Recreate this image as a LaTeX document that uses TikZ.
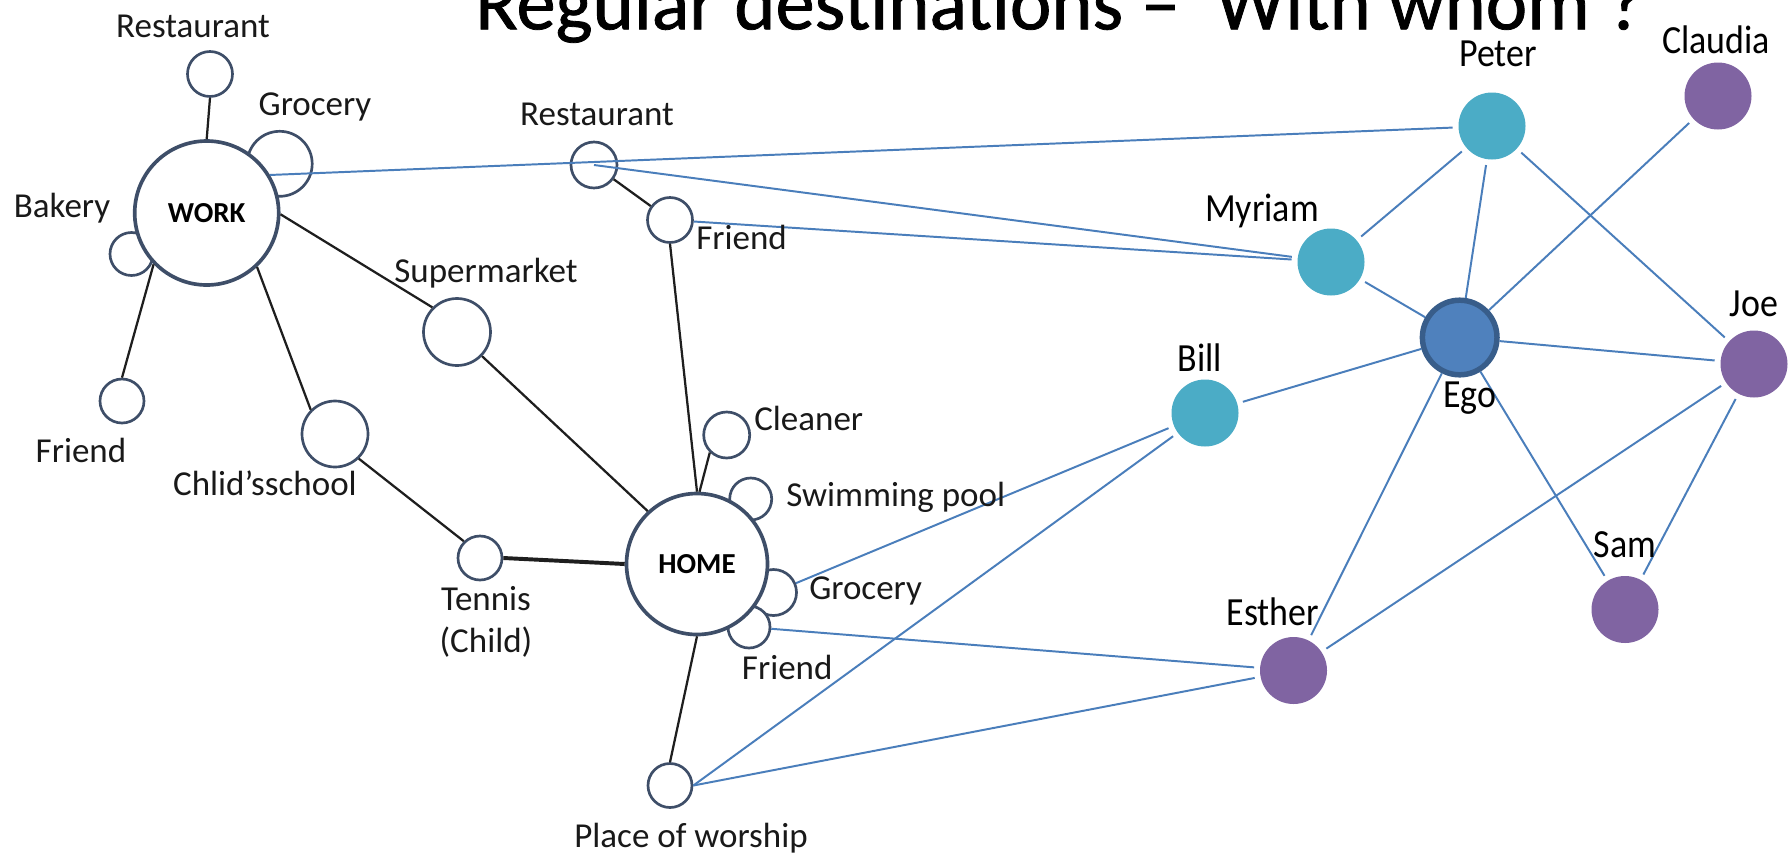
\documentclass[tikz,border=0pt]{standalone}
\usepackage{fontspec}
\setmainfont{Carlito}
\newfontfamily\pfont[FakeStretch=0.9]{Carlito}
\newfontfamily\titlefont[FakeBold=1]{Carlito}
\newcommand\upx{0.025cm}
\definecolor{placeclr}{RGB}{62,78,104}
\definecolor{tieclr}{RGB}{30,30,30}
\definecolor{labclr}{RGB}{25,25,25}
\definecolor{linkblue}{RGB}{74,126,187}
\definecolor{tealnode}{RGB}{75,172,198}
\definecolor{purplenode}{RGB}{128,100,162}
\definecolor{egofill}{RGB}{79,129,189}
\definecolor{egoborder}{RGB}{56,93,138}
\begin{document}
\begin{tikzpicture}[x=0.025cm,y=-0.025cm,
  place/.style={circle,draw=placeclr,line width=1.9pt,fill=white,inner sep=0pt},
  bigplace/.style={place,line width=2.6pt,font=\fontsize{20.6pt}{24pt}\selectfont\bfseries},
  person/.style={circle,inner sep=0pt,minimum size=67*\upx,outer sep=6*\upx},
  tie/.style={draw=tieclr,line width=1.6pt},
  link/.style={draw=linkblue,line width=1.4pt},
  lab/.style={font=\fontsize{24.9pt}{28pt}\selectfont,text=labclr,inner sep=0pt,anchor=base},
  plab/.style={font=\pfont\fontsize{28.4pt}{32pt}\selectfont,text=black,inner sep=0pt,anchor=base}]
\useasboundingbox (0,0) rectangle (1789,857);
\clip (0,0) rectangle (1789,857);
\fill[white] (0,0) rectangle (1789,857);

% title
\node[anchor=base west,inner sep=0pt,font=\titlefont\fontsize{55.8pt}{60pt}\selectfont] (title) at (475,29.3) {Regular destinations –\ \ With whom ?};

% small places
\node[place,minimum size=45*\upx] (rest1) at (210,74) {};
\node[place,minimum size=65*\upx] (groc1) at (279.7,163.8) {};
\node[place,minimum size=43*\upx] (bakery) at (131.5,254) {};
\node[place,minimum size=44*\upx] (friend1) at (122,401) {};
\node[place,minimum size=67*\upx] (superm) at (457,332) {};
\node[place,minimum size=66*\upx] (school) at (335,434) {};
\node[place,minimum size=46*\upx] (rest2) at (594,165) {};
\node[place,minimum size=45*\upx] (friend2) at (670,220) {};
\node[place,minimum size=46*\upx] (cleaner) at (726.7,435) {};
\node[place,minimum size=42*\upx] (swim) at (750.7,499) {};
\node[place,minimum size=46*\upx] (groc2) at (773.5,592.5) {};
\node[place,minimum size=42*\upx] (friend3) at (749,627) {};
\node[place,minimum size=44*\upx] (tennis) at (480,558) {};
\node[place,minimum size=44*\upx] (worship) at (670,785.5) {};
% big places
\node[bigplace,minimum size=144*\upx] (work) at (206.7,213) {WORK};
\node[bigplace,minimum size=141*\upx] (home) at (697,564) {HOME};

% persons
\node[person,fill=tealnode] (peter) at (1492,126) {};
\node[person,fill=purplenode] (claudia) at (1718,96) {};
\node[person,fill=tealnode] (myriam) at (1331,262) {};
\node[person,fill=purplenode] (joe) at (1754,364) {};
\node[person,fill=tealnode] (bill) at (1205,413) {};
\node[person,fill=purplenode] (sam) at (1625,609.5) {};
\node[person,fill=purplenode] (esther) at (1293.5,670.5) {};
\node[circle,inner sep=0pt,minimum size=74.6*\upx,fill=egofill,draw=egoborder,line width=3.9pt] (ego) at (1459.7,337.5) {};

% black ties
\draw[tie] (work.north) -- (rest1.south);
\draw[tie] (work.224) -- (friend1.north);
\draw[tie] (work.-47) -- (school.135);
\draw[tie] (work.-1) -- (superm.135);
\draw[tie] (superm.-44) -- (home.133);
\draw[tie] (rest2) -- (friend2);
\draw[tie] (friend2.south) -- (home.north);
\draw[tie] (home.88) -- (cleaner.226);
\draw[tie,line width=2.8pt] (home.west) -- (tennis.east);
\draw[tie] (school.-46) -- (tennis.134);
\draw[tie] (home.south) -- (worship.north);

% blue links
\draw[link] (work.31) -- (peter);
\draw[link] (rest2.center) -- (myriam);
\draw[link] (friend2) -- (myriam);
\draw[link] (peter) -- (myriam);
\draw[link] (peter) -- (ego);
\draw[link] (peter) -- (joe);
\draw[link] (claudia) -- (ego);
\draw[link] (myriam) -- (ego);
\draw[link] (ego) -- (joe);
\draw[link] (ego) -- (bill);
\draw[link] (ego) -- (esther);
\draw[link] (ego) -- (sam);
\draw[link] (joe) -- (esther);
\draw[link] (joe) -- (sam);
\draw[link] (groc2) -- (bill);
\draw[link] (worship.east) -- (bill);
\draw[link] (friend3) -- (esther);
\draw[link] (worship.east) -- (esther);

% place labels
\node[lab] (lrest1) at (193,37) {Restaurant};
\node[lab] (lgroc1) at (315,115.5) {Grocery};
\node[lab] (lbak) at (62,217.5) {Bakery};
\node[lab] (lfr1) at (81,462.5) {Friend};
\node[lab] (lsup) at (486,282.5) {Supermarket};
\node[lab] (lsch) at (265,495.5) {Chlid’sschool};
\node[lab] (lrest2) at (597,125.5) {Restaurant};
\node[lab,anchor=base west] (lfr2) at (696,249.5) {Friend};
\node[lab,anchor=base west] (lclean) at (754,430) {Cleaner};
\node[lab,anchor=base west] (lswim) at (786,506.5) {Swimming pool};
\node[lab,anchor=base west] (lgroc2) at (809,599.5) {Grocery};
\node[lab,anchor=base west] (lfr3) at (741.7,679) {Friend};
\node[lab] (lten1) at (486,610) {Tennis};
\node[lab] (lten2) at (486,652) {(Child)};
\node[lab] (lwor) at (691,847.5) {Place of worship};

% person labels
\node[plab] (lpeter) at (1498,66) {Peter};
\node[plab] (lclaudia) at (1716,53) {Claudia};
\node[plab] (lmyriam) at (1262,221.7) {Myriam};
\node[plab] (ljoe) at (1754,316) {Joe};
\node[plab] (lbill) at (1200,371) {Bill};
\node[plab] (lego) at (1470,407) {Ego};
\node[plab] (lsam) at (1625,557) {Sam};
\node[plab] (lesther) at (1273,625) {Esther};
\end{tikzpicture}
\end{document}
